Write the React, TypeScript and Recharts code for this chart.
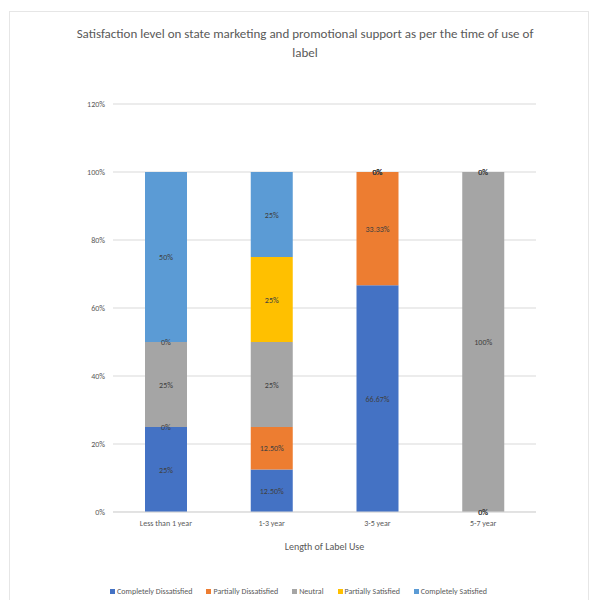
import React from "react";
import { BarChart, Bar, XAxis, YAxis, CartesianGrid, LabelList, ReferenceDot } from "recharts";

const categories = ["Less than 1 year", "1-3 year", "3-5 year", "5-7 year"];
const completelyDissatisfied = [25, 12.5, 66.67, 0];
const partiallyDissatisfied = [0, 12.5, 33.33, 0];
const neutral = [25, 25, 0, 100];
const partiallySatisfied = [0, 25, 0, 0];
const completelySatisfied = [50, 25, 0, 0];
const yTicks = [0, 20, 40, 60, 80, 100, 120];

const series = [
  { key: "cd", name: "Completely Dissatisfied", values: completelyDissatisfied, color: "#4472C4" },
  { key: "pd", name: "Partially Dissatisfied", values: partiallyDissatisfied, color: "#ED7D31" },
  { key: "ne", name: "Neutral", values: neutral, color: "#A5A5A5" },
  { key: "ps", name: "Partially Satisfied", values: partiallySatisfied, color: "#FFC000" },
  { key: "cs", name: "Completely Satisfied", values: completelySatisfied, color: "#5B9BD5" },
];

const data = categories.map((c, i) => {
  const row: Record<string, any> = { category: c };
  series.forEach((s) => (row[s.key] = s.values[i]));
  return row;
});

// zero-valued segments still get a "0%" label at their stack position
const zeroLabels: { category: string; y: number; key: string }[] = [];
categories.forEach((c, i) => {
  let cum = 0;
  series.forEach((s) => {
    const v = s.values[i];
    if (v === 0) zeroLabels.push({ category: c, y: Math.min(cum, 100), key: `${s.key}-${i}` });
    cum += v;
  });
});

const FONT = "Calibri, Carlito, 'DejaVu Sans Condensed', 'Liberation Sans Narrow', 'Open Sans', sans-serif";

const fmt = (v: any) => {
  const n = Number(v);
  return Number.isInteger(n) ? `${n}%` : `${n.toFixed(2)}%`;
};

const renderLabel = (props: any) => {
  const { x, y, width, height, value } = props;
  if (value === undefined || value === null || Number(value) === 0) return null;
  return (
    <text x={Number(x) + Number(width) / 2} y={Number(y) + Number(height) / 2} textAnchor="middle" dominantBaseline="central" fontSize={8} fill="#404040" fontFamily={FONT}>
      {fmt(value)}
    </text>
  );
};

export default function App() {
  return (
    <div style={{ position: "relative", width: 597, height: 608, margin: -8, background: "#fff", fontFamily: FONT, overflow: "hidden" }}>
      <div style={{ position: "absolute", left: 0, top: 4, width: 597, height: 3, background: "#000" }} />
      <div style={{ position: "absolute", left: 9, top: 11, width: 580, height: 593, border: "1px solid #e6e6e6", boxSizing: "border-box" }} />
      <div style={{ position: "absolute", left: 70, top: 24, width: 470, textAlign: "center", fontSize: 13, lineHeight: "19px", color: "#595959" }}>
        Satisfaction level on state marketing and promotional support as per the time of use of label
      </div>
      <div style={{ position: "absolute", left: 0, top: 0 }}>
        <BarChart width={597} height={608} data={data} margin={{ top: 104, right: 61, bottom: 56, left: 0 }} barSize={42}>
          <CartesianGrid vertical={false} stroke="#d9d9d9" />
          <XAxis
            dataKey="category"
            tickLine={false}
            axisLine={{ stroke: "#d9d9d9" }}
            tick={{ fontSize: 8, fill: "#595959", fontFamily: FONT }}
            height={40}
            label={{ value: "Length of Label Use", position: "insideBottom", offset: 2, fontSize: 10, fill: "#595959", fontFamily: FONT }}
          />
          <YAxis
            width={113}
            domain={[0, 120]}
            ticks={yTicks}
            tickFormatter={(v) => `${v}%`}
            tickLine={false}
            axisLine={false}
            tick={{ fontSize: 8, fill: "#595959", fontFamily: FONT }}
          />
          {series.map((s) => (
            <Bar key={s.key} dataKey={s.key} name={s.name} stackId="a" fill={s.color} isAnimationActive={false}>
              <LabelList dataKey={s.key} content={renderLabel} />
            </Bar>
          ))}
          {zeroLabels.map((z) => (
            <ReferenceDot
              key={z.key}
              x={z.category}
              y={z.y}
              r={0}
              stroke="none"
              fill="none"
              ifOverflow="visible"
              label={{ value: "0%", position: "center", fontSize: 8, fill: "#404040", fontFamily: FONT }}
            />
          ))}
        </BarChart>
      </div>
      <div style={{ position: "absolute", left: 0, top: 586, width: 597, display: "flex", justifyContent: "center", gap: 14, fontSize: 8, color: "#595959" }}>
        {series.map((s) => (
          <div key={s.key} style={{ display: "flex", alignItems: "center", gap: 2 }}>
            <span style={{ display: "inline-block", width: 5, height: 5, background: s.color }} />
            <span>{s.name}</span>
          </div>
        ))}
      </div>
    </div>
  );
}
